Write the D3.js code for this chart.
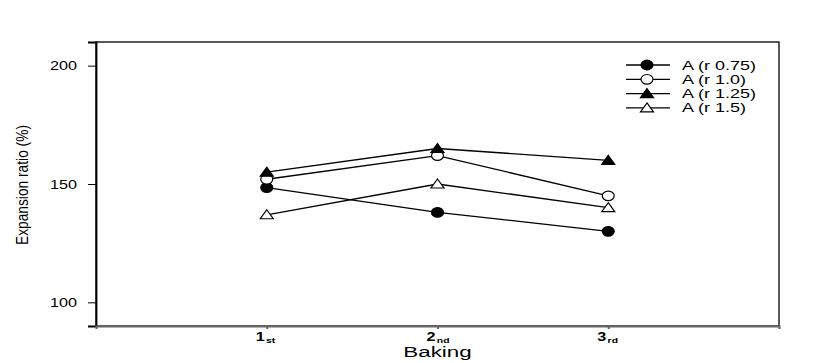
<!DOCTYPE html>
<html>
<head>
<meta charset="utf-8">
<script src="https://cdn.jsdelivr.net/npm/d3@7"></script>
<style>
  body { margin: 0; background: #fff; }
  svg { display: block; font-family: "Liberation Sans", Arial, sans-serif; }
</style>
</head>
<body>
<svg id="chart"></svg>
<script>
// data
const bakings = [1, 2, 3];
const bakingLabels = [["1", "st"], ["2", "nd"], ["3", "rd"]];
const seriesNames = ["A (r 0.75)", "A (r 1.0)", "A (r 1.25)", "A (r 1.5)"];
const r075 = [148.5, 138, 130];
const r100 = [152, 162, 145];
const r125 = [155, 165, 160];
const r150 = [137, 150, 140];
const yTicks = [100, 150, 200];

const width = 817, height = 363;
const margin = { left: 96, right: 38, top: 42, bottom: 37 };

const svg = d3.select("#chart").attr("width", width).attr("height", height);

const x = d3.scaleLinear().domain([0, 4]).range([margin.left, width - margin.right]);
const y = d3.scaleLinear().domain([90, 210]).range([height - margin.bottom, margin.top]);

// the original picture is stretched sideways, so text gets a horizontal scale
function wideText(px, py, sx) {
  return svg.append("text")
    .attr("transform", `translate(${px},${py}) scale(${sx},1)`);
}

// frame
svg.append("rect")
  .attr("x", x(0)).attr("y", y(210))
  .attr("width", x(4) - x(0)).attr("height", y(90) - y(210))
  .attr("fill", "none").attr("stroke", "#000").attr("stroke-width", 1.3);

// y axis
const yAxis = svg.append("g")
  .attr("transform", `translate(${x(0)},0)`)
  .call(d3.axisLeft(y).tickValues(yTicks).tickSize(8).tickFormat(""));
yAxis.select(".domain").attr("stroke-width", 1.8);

yTicks.forEach(function(t) {
  wideText(77, y(t) + 4.5, 1.35)
    .attr("text-anchor", "end").attr("font-size", 12)
    .text(t);
});

// x axis
const xAxis = svg.append("g")
  .attr("transform", `translate(0,${y(90)})`)
  .call(d3.axisBottom(x).tickValues(bakings).tickSize(3).tickFormat(""));
xAxis.select(".domain").attr("stroke", "#666").attr("stroke-width", 2.2);
xAxis.selectAll(".tick line").attr("stroke", "#666").attr("stroke-width", 2);

bakings.forEach(function(b, i) {
  const t = wideText(x(b) - 11, 341, 1.3)
    .attr("font-weight", "bold").attr("font-size", 12.5);
  t.append("tspan").text(bakingLabels[i][0]);
  t.append("tspan").attr("font-size", 8).attr("dx", 1).attr("dy", 2).text(bakingLabels[i][1]);
});

wideText(x(2), 357, 1.6)
  .attr("text-anchor", "middle").attr("font-size", 14)
  .text("Baking");

svg.append("text")
  .attr("transform", `translate(28,${(y(90) + y(210)) / 2 + 1}) rotate(-90)`)
  .attr("text-anchor", "middle")
  .attr("font-size", 16.5)
  .attr("textLength", 120).attr("lengthAdjust", "spacingAndGlyphs")
  .text("Expansion ratio (%)");

// series
const series = [
  { name: seriesNames[0], values: r075, shape: "circle", fill: "#000" },
  { name: seriesNames[1], values: r100, shape: "circle", fill: "#fff" },
  { name: seriesNames[2], values: r125, shape: "triangle", fill: "#000" },
  { name: seriesNames[3], values: r150, shape: "triangle", fill: "#fff" }
];

function drawMarker(g, shape, fill, cx, cy) {
  if (shape === "circle") {
    g.append("ellipse")
      .attr("cx", cx).attr("cy", cy).attr("rx", 6).attr("ry", 4.8)
      .attr("fill", fill).attr("stroke", "#000").attr("stroke-width", 1.2);
  } else {
    g.append("path")
      .attr("d", `M${cx},${cy - 5}L${cx + 6.5},${cy + 4}L${cx - 6.5},${cy + 4}Z`)
      .attr("fill", fill).attr("stroke", "#000").attr("stroke-width", 1.2);
  }
}

const line = d3.line().x((d, i) => x(bakings[i])).y(d => y(d));

series.forEach(function(s) {
  svg.append("path")
    .attr("d", line(s.values))
    .attr("fill", "none").attr("stroke", "#000").attr("stroke-width", 1.3);
});
series.forEach(function(s) {
  const g = svg.append("g");
  s.values.forEach(function(v, i) {
    drawMarker(g, s.shape, s.fill, x(bakings[i]), y(v));
  });
});

// legend
const legend = svg.append("g");
series.forEach(function(s, i) {
  const ly = 65 + i * 14.3;
  legend.append("line")
    .attr("x1", 626).attr("x2", 670).attr("y1", ly).attr("y2", ly)
    .attr("stroke", "#000").attr("stroke-width", 1.3);
  drawMarker(legend, s.shape, s.fill, 647, ly);
  wideText(682, ly + 4.5, 1.5)
    .attr("font-size", 12)
    .text(s.name);
});
</script>
</body>
</html>
